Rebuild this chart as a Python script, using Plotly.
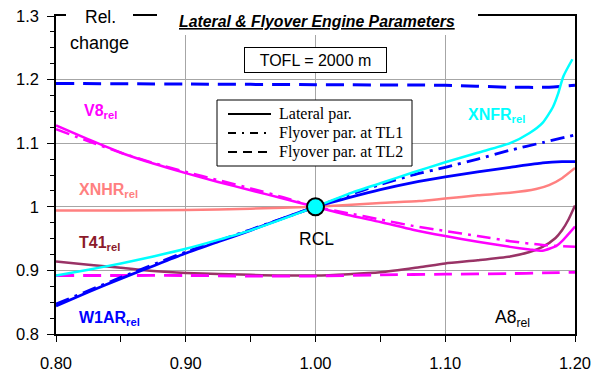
import plotly.graph_objects as go

# ---- data ----
x_v8 = [0.80, 0.825, 0.85, 0.875, 0.90, 0.925, 0.95, 0.975, 1.00, 1.025, 1.05, 1.075, 1.10, 1.125, 1.15, 1.165, 1.175, 1.186, 1.19, 1.20]
v8_lat = [1.128, 1.106, 1.085, 1.068, 1.053, 1.039, 1.026, 1.013, 1.000, 0.987, 0.976, 0.964, 0.954, 0.945, 0.937, 0.933, 0.931, 0.939, 0.946, 0.969]

x_v8_tl1 = [0.80, 0.825, 0.85, 0.875, 0.90, 0.925, 0.95, 0.975, 1.00, 1.025, 1.05, 1.075, 1.10, 1.125, 1.15, 1.175, 1.20]
v8_tl1 = [1.122, 1.103, 1.085, 1.069, 1.055, 1.042, 1.029, 1.015, 1.000, 0.990, 0.980, 0.970, 0.962, 0.954, 0.946, 0.940, 0.937]

x_v8_tl2 = [0.80, 0.85, 0.90, 0.95, 1.00, 1.05, 1.10, 1.15, 1.175, 1.20]
v8_tl2 = [0.892, 0.892, 0.892, 0.891, 0.891, 0.893, 0.894, 0.895, 0.896, 0.897]

x_w1 = [0.80, 0.825, 0.85, 0.875, 0.90, 0.925, 0.95, 0.975, 1.00, 1.025, 1.05, 1.075, 1.10, 1.125, 1.15, 1.175, 1.19, 1.20]
w1_lat = [0.844, 0.866, 0.887, 0.907, 0.927, 0.945, 0.963, 0.982, 1.000, 1.014, 1.027, 1.038, 1.047, 1.055, 1.062, 1.069, 1.071, 1.071]

x_w1_tl1 = [0.80, 0.85, 0.90, 0.95, 1.00, 1.025, 1.05, 1.075, 1.10, 1.125, 1.15, 1.175, 1.20]
w1_tl1 = [0.847, 0.889, 0.929, 0.964, 1.000, 1.018, 1.035, 1.050, 1.062, 1.075, 1.089, 1.101, 1.113]

x_w1_tl2 = [0.80, 0.90, 1.00, 1.10, 1.15, 1.18, 1.20]
w1_tl2 = [1.194, 1.193, 1.192, 1.191, 1.188, 1.188, 1.191]

x_xnfr = [0.80, 0.825, 0.85, 0.875, 0.90, 0.925, 0.95, 0.975, 1.00, 1.025, 1.05, 1.075, 1.10, 1.125, 1.15, 1.165, 1.175, 1.183, 1.187, 1.191, 1.198]
xnfr = [0.892, 0.901, 0.911, 0.922, 0.934, 0.948, 0.963, 0.981, 1.000, 1.020, 1.037, 1.054, 1.070, 1.085, 1.100, 1.116, 1.132, 1.157, 1.178, 1.205, 1.232]

x_xnhr = [0.80, 0.85, 0.90, 0.95, 1.00, 1.05, 1.08, 1.10, 1.125, 1.15, 1.17, 1.18, 1.19, 1.20]
xnhr = [0.994, 0.994, 0.995, 0.997, 1.000, 1.006, 1.009, 1.013, 1.018, 1.022, 1.028, 1.034, 1.045, 1.061]

x_t41 = [0.80, 0.825, 0.85, 0.875, 0.90, 0.95, 1.00, 1.05, 1.08, 1.10, 1.125, 1.15, 1.165, 1.175, 1.185, 1.19, 1.195, 1.20]
t41 = [0.914, 0.909, 0.904, 0.899, 0.896, 0.893, 0.892, 0.897, 0.905, 0.911, 0.916, 0.922, 0.929, 0.937, 0.951, 0.963, 0.980, 1.002]

rcl_x = [1.0]
rcl_y = [1.0]

x_tickvals = [0.80, 0.90, 1.00, 1.10, 1.20]
y_tickvals = [0.8, 0.9, 1.0, 1.1, 1.2, 1.3]
y_ticktext = ["0.8", "0.9", "1", "1.1", "1.2", "1.3"]

legend_names = ["Lateral par.", "Flyover par. at TL1", "Flyover par. at TL2"]

# ---- styles ----
MAG = "#FF00FF"
BLUE = "#0000FF"
CYAN = "#00FFFF"
SALMON = "#FF8080"
T41C = "#993366"
DASH = "18px,9px"
DASHDOT = "14px,6px,3px,6px"
LEG_DASH = "9px,6px"
LEG_DASHDOT = "8px,6px,2px,6px"

fig = go.Figure()

def add(x, y, color, width, dash="solid"):
    fig.add_trace(go.Scatter(x=x, y=y, mode="lines", showlegend=False, hoverinfo="skip",
                             line=dict(color=color, width=width, dash=dash, shape="spline", smoothing=0.6)))

add(x_xnhr, xnhr, SALMON, 2.5)
add(x_t41, t41, T41C, 2.5)
add(x_v8_tl2, v8_tl2, MAG, 2.8, DASH)
add(x_v8_tl1, v8_tl1, MAG, 2.5, DASHDOT)
add(x_v8, v8_lat, MAG, 2.5)
add(x_w1_tl2, w1_tl2, BLUE, 3, DASH)
add(x_w1_tl1, w1_tl1, BLUE, 2.8, DASHDOT)
add(x_w1, w1_lat, BLUE, 2.8)
add(x_xnfr, xnfr, CYAN, 2.5)

fig.add_trace(go.Scatter(x=rcl_x, y=rcl_y, mode="markers", showlegend=False, hoverinfo="skip",
                         marker=dict(size=17, color=CYAN, line=dict(color="black", width=2))))

SANS = "Liberation Sans, Arial, sans-serif"
SERIF = "Liberation Serif, Times New Roman, serif"

def ppx(px):
    return (px - 56) / 519.0

def ppy(py):
    return (334 - py) / 318.0

# white masks over the top frame line / gridlines behind header texts
for x0, x1, y0, y1 in [(66, 133, 8, 30), (157, 478, 8, 35)]:
    fig.add_shape(type="rect", xref="paper", yref="paper", layer="above",
                  x0=ppx(x0), x1=ppx(x1), y0=ppy(y1), y1=ppy(y0),
                  fillcolor="white", line=dict(width=0))

# legend box (drawn manually to match compact Excel spacing)
fig.add_shape(type="rect", xref="paper", yref="paper", layer="above",
              x0=ppx(217), x1=ppx(412), y0=ppy(166), y1=ppy(100),
              fillcolor="white", line=dict(color="black", width=1))
for i, (name, dash) in enumerate(zip(legend_names, ["solid", LEG_DASHDOT, LEG_DASH])):
    yy = 114 + 19 * i
    fig.add_shape(type="line", xref="paper", yref="paper", layer="above",
                  x0=ppx(228), x1=ppx(271), y0=ppy(yy), y1=ppy(yy),
                  line=dict(color="black", width=2, dash=dash))
    fig.add_annotation(x=ppx(277), y=ppy(yy), xref="paper", yref="paper", showarrow=False,
                       text=name, xanchor="left", yanchor="middle",
                       font=dict(family=SERIF, size=16, color="black"))

def label(text, x, y, color, size=16, xanchor="left", bold=True):
    t = f"<b>{text}</b>" if bold else text
    fig.add_annotation(x=x, y=y, xref="x", yref="y", text=t, showarrow=False,
                       xanchor=xanchor, yanchor="middle",
                       font=dict(family=SANS, size=size, color=color))

label("V8<sub>rel</sub>", 0.8200, 1.150, MAG)
label("XNHR<sub>rel</sub>", 0.816, 1.026, SALMON)
label("T41<sub>rel</sub>", 0.816, 0.942, "#8B1A2A")
label("W1AR<sub>rel</sub>", 0.816, 0.825, BLUE)
label("XNFR<sub>rel</sub>", 1.116, 1.143, CYAN)
label("A8<sub>rel</sub>", 1.137, 0.825, "black", size=17.5, bold=False)
label("RCL", 1.001, 0.949, "black", size=17.5, xanchor="center", bold=False)

fig.add_annotation(x=ppx(317), y=ppy(21), xref="paper", yref="paper", showarrow=False,
                   text="<b><i><u>Lateral &amp; Flyover Engine Parameters</u></i></b>",
                   font=dict(family=SANS, size=15.8, color="black"),
                   xanchor="center", yanchor="middle")
fig.add_annotation(x=ppx(100), y=ppy(17), xref="paper", yref="paper", showarrow=False,
                   text="Rel.", font=dict(family=SANS, size=17.5, color="black"),
                   xanchor="center", yanchor="middle")
fig.add_annotation(x=ppx(99), y=ppy(43), xref="paper", yref="paper", showarrow=False,
                   text="change", font=dict(family=SANS, size=18, color="black"),
                   xanchor="center", yanchor="middle")
fig.add_annotation(x=ppx(315.5), y=ppy(60), xref="paper", yref="paper", showarrow=False,
                   text="TOFL = 2000 m", font=dict(family=SANS, size=16, color="black"),
                   bgcolor="white", bordercolor="black", borderwidth=1, borderpad=2,
                   width=137, height=20, xanchor="center", yanchor="middle")

axis_common = dict(showline=True, linecolor="black", linewidth=1.5, mirror=True,
                   ticks="outside", tickcolor="black", tickwidth=1.2,
                   showgrid=True, gridcolor="#A6A6A6", gridwidth=1.2,
                   zeroline=False, automargin=False,
                   tickfont=dict(family=SANS, size=16.5, color="black"))

fig.update_xaxes(range=[0.8, 1.2], tickvals=x_tickvals, tickformat=".2f", ticklen=6,
                 ticklabelstandoff=7,
                 minor=dict(dtick=0.05, tick0=0.8, ticks="outside", ticklen=6, tickcolor="black", showgrid=False),
                 **axis_common)
fig.update_yaxes(range=[0.8, 1.3], tickvals=y_tickvals, ticktext=y_ticktext, ticklen=7,
                 ticklabelstandoff=5,
                 minor=dict(dtick=0.025, tick0=0.8, ticks="outside", ticklen=4, tickcolor="black", showgrid=False),
                 **axis_common)

fig.update_layout(
    width=604, height=372,
    margin=dict(l=56, r=29, t=16, b=38),
    paper_bgcolor="white", plot_bgcolor="white",
    showlegend=False,
)

fig.write_html("out.html")
